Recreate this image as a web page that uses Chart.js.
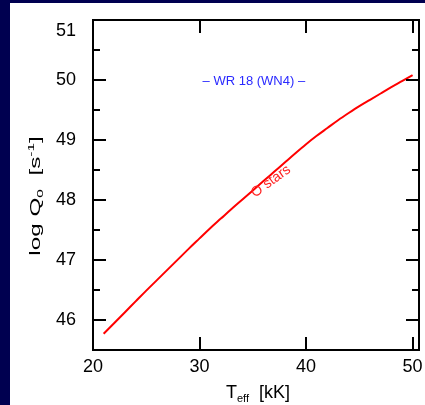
<!DOCTYPE html>
<html><head><meta charset="utf-8">
<script src="https://cdn.jsdelivr.net/npm/chart.js@4"></script>
<style>html,body{margin:0;padding:0;background:#000050;}canvas{display:block}</style>
</head><body>
<canvas id="c" width="425" height="405"></canvas>
<script>
// ---- data ----
const tempKK = [21,22,23,24,25,26,27,28,29,30,31,32,33,34,35,36,37,38,39,40,41,42,43,44,45,46,47,48,49,50];
const logQ0  = [45.77,45.95,46.13,46.31,46.49,46.665,46.84,47.015,47.19,47.36,47.53,47.69,47.85,48.005,48.16,48.315,48.47,48.625,48.78,48.93,49.07,49.20,49.33,49.45,49.565,49.67,49.775,49.88,49.98,50.08];
const xTickValues = [20,30,40,50];
const yTickValues = [46,47,48,49,50,51];
const yMinorTickValues = [45.5,46.5,47.5,48.5,49.5,50.5];
const wrLabel = '\u2013 WR 18 (WN4) \u2013';
const wrLabelPos = [35.1, 49.98];
const oStarsLabel = 'O stars';
const oStarsLabelPos = [36.7, 48.31];

const FONT = '"Liberation Sans", Arial, sans-serif';

function drawRich(ctx, pieces, cx, cy) {
  let total = 0;
  pieces.forEach(p => { ctx.font = p.size + 'px ' + FONT; p.w = ctx.measureText(p.t).width; total += p.w; });
  let x = cx - total / 2;
  ctx.textAlign = 'left';
  ctx.textBaseline = 'alphabetic';
  pieces.forEach(p => { ctx.font = p.size + 'px ' + FONT; ctx.fillText(p.t, x, cy + (p.dy || 0)); x += p.w; });
}

const decor = {
  id: 'decor',
  beforeDraw(chart) {
    const ctx = chart.ctx;
    ctx.save();
    ctx.fillStyle = '#000050';
    ctx.fillRect(0, 0, chart.width, chart.height);
    ctx.fillStyle = '#ffffff';
    ctx.fillRect(10, 3, chart.width - 10, chart.height - 3);
    ctx.restore();
  },
  afterDatasetsDraw(chart) {
    const ctx = chart.ctx;
    const a = chart.chartArea;
    const xs = chart.scales.x, ys = chart.scales.y;
    ctx.save();
    ctx.strokeStyle = '#000';
    ctx.lineWidth = 2;
    ctx.strokeRect(a.left, a.top, a.right - a.left, a.bottom - a.top);
    ctx.beginPath();
    const maj = 13, mnr = 7;
    yTickValues.forEach(v => { const y = Math.round(ys.getPixelForValue(v));
      ctx.moveTo(a.left, y); ctx.lineTo(a.left + maj, y);
      ctx.moveTo(a.right, y); ctx.lineTo(a.right - maj, y); });
    yMinorTickValues.forEach(v => { const y = Math.round(ys.getPixelForValue(v));
      ctx.moveTo(a.left, y); ctx.lineTo(a.left + mnr, y);
      ctx.moveTo(a.right, y); ctx.lineTo(a.right - mnr, y); });
    xTickValues.forEach(v => { const x = Math.round(xs.getPixelForValue(v));
      ctx.moveTo(x, a.bottom); ctx.lineTo(x, a.bottom - maj);
      ctx.moveTo(x, a.top); ctx.lineTo(x, a.top + maj); });
    ctx.stroke();

    // annotations
    ctx.fillStyle = '#2a2aff';
    ctx.font = '13px ' + FONT;
    ctx.textAlign = 'center';
    ctx.textBaseline = 'middle';
    ctx.fillText(wrLabel, xs.getPixelForValue(wrLabelPos[0]), ys.getPixelForValue(wrLabelPos[1]));

    ctx.save();
    ctx.translate(xs.getPixelForValue(oStarsLabelPos[0]), ys.getPixelForValue(oStarsLabelPos[1]));
    ctx.rotate(-36 * Math.PI / 180);
    ctx.fillStyle = '#ff2020';
    ctx.font = '14px ' + FONT;
    ctx.textAlign = 'center';
    ctx.textBaseline = 'middle';
    ctx.fillText(oStarsLabel, 0, 0);
    ctx.restore();

    // axis titles
    ctx.fillStyle = '#000';
    drawRich(ctx, [{t:'T',size:18},{t:'eff',size:11,dy:4},{t:'  [kK]',size:18}], 258, 398);
    ctx.save();
    ctx.translate(40, 196);
    ctx.rotate(-Math.PI / 2);
    ctx.scale(1.62, 1);
    drawRich(ctx, [{t:'log Q',size:15},{t:'0',size:9.5,dy:3},{t:'  [s',size:15},{t:'-1',size:9.5,dy:-6.5},{t:']',size:15}], 0, 0);
    ctx.restore();
    ctx.restore();
  }
};

new Chart(document.getElementById('c'), {
  type: 'scatter',
  data: {
    datasets: [{
      data: tempKK.map((t, i) => ({x: t, y: logQ0[i]})),
      showLine: true,
      borderColor: '#ff0000',
      borderWidth: 2,
      pointRadius: 0,
      cubicInterpolationMode: 'monotone'
    }]
  },
  options: {
    responsive: false,
    animation: false,
    devicePixelRatio: 1,
    layout: {padding: {left: 0, top: 20, right: 6, bottom: 0}},
    plugins: {legend: {display: false}, tooltip: {enabled: false}},
    scales: {
      x: {
        type: 'linear', min: 20, max: 50.6,
        afterBuildTicks: s => { s.ticks = xTickValues.map(v => ({value: v})); },
        afterFit: s => { s.height = 55; s.paddingLeft = 0; s.paddingRight = 0; },
        grid: {display: false, drawTicks: false},
        border: {display: false},
        ticks: {color: '#000', font: {family: FONT, size: 18}, padding: 6, maxRotation: 0, autoSkip: false}
      },
      y: {
        type: 'linear', min: 45.5, max: 51,
        afterBuildTicks: s => { s.ticks = yTickValues.map(v => ({value: v})); },
        afterFit: s => { s.width = 93; s.paddingTop = 0; s.paddingBottom = 0; },
        grid: {display: false, drawTicks: false},
        border: {display: false},
        ticks: {color: '#000', font: {family: FONT, size: 18}, padding: 17, autoSkip: false,
          callback: v => v === 51 ? ['', '51'] : String(v)}
      }
    }
  },
  plugins: [decor]
});
</script>
</body></html>
